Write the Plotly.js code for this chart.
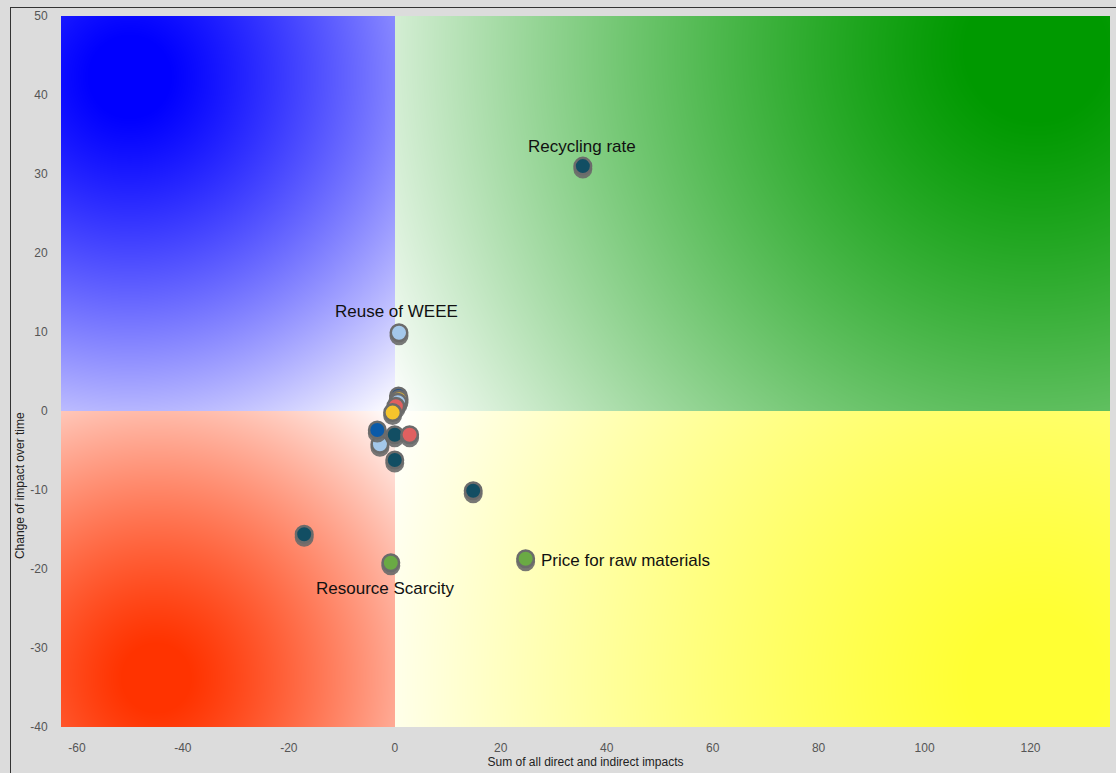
<!DOCTYPE html>
<html>
<head>
<meta charset="utf-8">
<script src="https://cdn.plot.ly/plotly-3.0.1.min.js"></script>
<style>
  html, body { margin:0; padding:0; background:#dcdcdc; }
  #wrap { position:relative; width:1116px; height:773px; }
  #chart { width:1116px; height:773px; }
  #frame { position:absolute; left:10px; top:7px; right:0; bottom:0;
           border-left:1px solid #333; border-top:1px solid #333; pointer-events:none; }
  .scatterlayer .point { filter: drop-shadow(0px 3px 0.5px rgba(105,105,105,0.9)); }
</style>
</head>
<body>
<div id="wrap"><div id="chart"></div><div id="frame"></div></div>
<script>
// ---- data ----
const xVals  = [0.7, 0.8, 0.6, 0.2, -0.4, -2.8, 0.0, 2.8, -3.3, 0.0, -17.1, 14.8, -0.75, 24.7, 0.8, 35.5];
const yVals  = [1.9, 1.5, 1.1, 0.6, -0.2, -4.2, -3.0, -3.0, -2.4, -6.2, -15.6, -10.1, -19.2, -18.7, 9.9, 31.0];
const pointColors = ['#1d4f8a','#e8b931','#a4c8ea','#e06060','#f5c42c','#a4c8ea','#124e63','#e06060','#0b5aa8','#124e63','#124e63','#124e63','#6aaa44','#6aaa44','#a4c8ea','#124e63'];
const pointLabels = ['','','','','','','','','','','','','Resource Scarcity','Price for raw materials','Reuse of WEEE','Recycling rate'];
const xTicks = [-60,-40,-20,0,20,40,60,80,100,120];
const xTickText = ['-60','-40','-20','0','20','40','60','80','100','120'];
const yTicks = [-40,-30,-20,-10,0,10,20,30,40,50];
const yTickText = ['-40','-30','-20','-10','0','10','20','30','40','50'];
const xRange = [-63, 135];
const yRange = [-40, 50];

// ---- styles ----
const labelStyle = {
  'Resource Scarcity':      {xanchor:'center', yanchor:'middle', xshift:-6, yshift:-26},
  'Price for raw materials':{xanchor:'left',   yanchor:'middle', xshift:13, yshift:-2},
  'Reuse of WEEE':          {xanchor:'center', yanchor:'middle', xshift:-3, yshift:21},
  'Recycling rate':         {xanchor:'center', yanchor:'middle', xshift:-1, yshift:20}
};
const quadStyle = [
  {c:[-50, 42.3], col:[0,0,255]},     // top-left
  {c:[121, 45.7], col:[0,153,0]},     // top-right
  {c:[-45,-33.8], col:[255,51,0]},    // bottom-left
  {c:[121,-34.3], col:[255,255,51]}   // bottom-right
];

// ---- background gradient image ----
const W = 1049, H = 711;
const cv = document.createElement('canvas'); cv.width = W; cv.height = H;
const ctx = cv.getContext('2d');
const im = ctx.createImageData(W, H);
const sx = W / (xRange[1]-xRange[0]), sy = H / (yRange[1]-yRange[0]);
quadStyle.forEach(q => { q.R = Math.hypot(q.c[0]*sx, q.c[1]*sy); });
for (let j = 0; j < H; j++) {
  const y = yRange[1] - (j+0.5)/sy;
  for (let i = 0; i < W; i++) {
    const x = xRange[0] + (i+0.5)/sx;
    const q = y >= 0 ? (x < 0 ? quadStyle[0] : quadStyle[1]) : (x < 0 ? quadStyle[2] : quadStyle[3]);
    const d = Math.hypot((x-q.c[0])*sx, (y-q.c[1])*sy) / q.R;
    const I = Math.min(1, Math.max(0, 1.05*(1 - Math.pow(d, 1.3))));
    const k = (j*W + i)*4;
    im.data[k]   = 255 + (q.col[0]-255)*I;
    im.data[k+1] = 255 + (q.col[1]-255)*I;
    im.data[k+2] = 255 + (q.col[2]-255)*I;
    im.data[k+3] = 255;
  }
}
ctx.putImageData(im, 0, 0);
const bgURL = cv.toDataURL('image/png');

// ---- plot ----
const font = 'Liberation Sans, Arial, sans-serif';
const trace = {
  type:'scatter', mode:'markers', x:xVals, y:yVals,
  marker:{size:16.5, color:pointColors, line:{color:'#6b6b6b', width:2.5}},
  hoverinfo:'x+y'
};
const annotations = pointLabels.map((t,i) => t ? Object.assign({
  text:t, x:xVals[i], y:yVals[i], xref:'x', yref:'y', showarrow:false,
  font:{family:font, size:17, color:'#111'}
}, labelStyle[t]) : null).filter(a => a);
annotations.push({
  text:'Change of impact over time', textangle:-90, xref:'paper', yref:'paper',
  x:-0.039, y:0.339, showarrow:false, xanchor:'center', yanchor:'middle',
  font:{family:font, size:12, color:'#222'}
});

const layout = {
  width:1116, height:773,
  margin:{l:61, r:6, t:16, b:46},
  paper_bgcolor:'#dcdcdc', plot_bgcolor:'#ffffff',
  showlegend:false,
  xaxis:{range:xRange, tickvals:xTicks, ticktext:xTickText, showgrid:false, zeroline:false, showline:false,
         ticks:'outside', ticklen:10, tickcolor:'rgba(0,0,0,0)',
         tickfont:{family:font, size:12, color:'#555'},
         title:{text:'Sum of all direct and indirect impacts', font:{family:font, size:12, color:'#222'}, standoff:2}},
  yaxis:{range:yRange, tickvals:yTicks, ticktext:yTickText, showgrid:false, zeroline:false, showline:false,
         ticks:'outside', ticklen:10, tickcolor:'rgba(0,0,0,0)',
         tickfont:{family:font, size:12, color:'#555'}},
  images:[{source:bgURL, xref:'x', yref:'y', x:xRange[0], y:yRange[1],
           sizex:xRange[1]-xRange[0], sizey:yRange[1]-yRange[0],
           sizing:'stretch', layer:'below'}],
  annotations:annotations
};
Plotly.newPlot('chart', [trace], layout, {displayModeBar:false, staticPlot:true});
</script>
</body>
</html>
